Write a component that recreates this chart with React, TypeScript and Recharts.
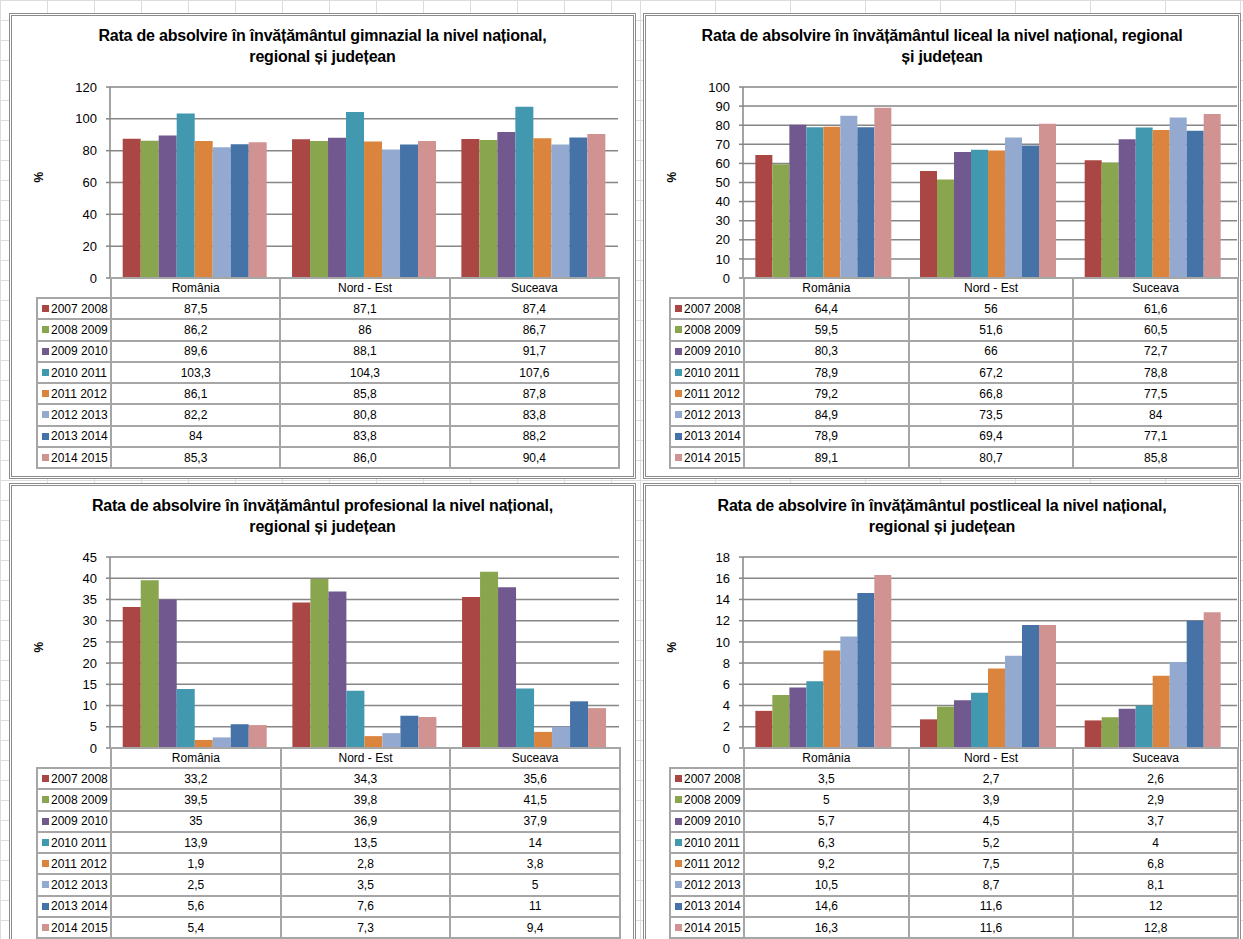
import { Bar, BarChart, CartesianGrid, XAxis, YAxis } from 'recharts';

const CATEGORIES = ['România', 'Nord - Est', 'Suceava'];
const YEARS = ['2007 2008', '2008 2009', '2009 2010', '2010 2011', '2011 2012', '2012 2013', '2013 2014', '2014 2015'];
const COLORS = ['#AA4643', '#89A54E', '#71588F', '#4198AF', '#DB843D', '#93A9CF', '#4572A7', '#D19392'];

// values as printed in the data tables (comma decimals)
const GIMNAZIAL_ROMANIA = ['87,5', '86,2', '89,6', '103,3', '86,1', '82,2', '84', '85,3'];
const GIMNAZIAL_NORD_EST = ['87,1', '86', '88,1', '104,3', '85,8', '80,8', '83,8', '86,0'];
const GIMNAZIAL_SUCEAVA = ['87,4', '86,7', '91,7', '107,6', '87,8', '83,8', '88,2', '90,4'];

const LICEAL_ROMANIA = ['64,4', '59,5', '80,3', '78,9', '79,2', '84,9', '78,9', '89,1'];
const LICEAL_NORD_EST = ['56', '51,6', '66', '67,2', '66,8', '73,5', '69,4', '80,7'];
const LICEAL_SUCEAVA = ['61,6', '60,5', '72,7', '78,8', '77,5', '84', '77,1', '85,8'];

const PROFESIONAL_ROMANIA = ['33,2', '39,5', '35', '13,9', '1,9', '2,5', '5,6', '5,4'];
const PROFESIONAL_NORD_EST = ['34,3', '39,8', '36,9', '13,5', '2,8', '3,5', '7,6', '7,3'];
const PROFESIONAL_SUCEAVA = ['35,6', '41,5', '37,9', '14', '3,8', '5', '11', '9,4'];

const POSTLICEAL_ROMANIA = ['3,5', '5', '5,7', '6,3', '9,2', '10,5', '14,6', '16,3'];
const POSTLICEAL_NORD_EST = ['2,7', '3,9', '4,5', '5,2', '7,5', '8,7', '11,6', '11,6'];
const POSTLICEAL_SUCEAVA = ['2,6', '2,9', '3,7', '4', '6,8', '8,1', '12', '12,8'];

const TICKS_GIMNAZIAL = [0, 20, 40, 60, 80, 100, 120];
const TICKS_LICEAL = [0, 10, 20, 30, 40, 50, 60, 70, 80, 90, 100];
const TICKS_PROFESIONAL = [0, 5, 10, 15, 20, 25, 30, 35, 40, 45];
const TICKS_POSTLICEAL = [0, 2, 4, 6, 8, 10, 12, 14, 16, 18];

const toNum = (s: string) => parseFloat(s.replace(',', '.'));

function buildRows(cols: string[][]) {
  return CATEGORIES.map((name, c) => {
    const row: Record<string, string | number> = { name };
    YEARS.forEach((_, i) => {
      row[`s${i}`] = toNum(cols[c][i]);
    });
    return row;
  });
}

const B = 3; // frame border
const AXIS_W = 90;
const LEGEND_W = 74;
const PLOT_TOP = 74;
const PLOT_H = 191;
const LINE = '2px solid #a6a6a6';
const FONT = '"Liberation Sans", Arial, sans-serif';

type PanelProps = {
  x: number;
  y: number;
  w: number;
  h: number;
  title: string[];
  ticks: number[];
  cols: string[][];
  plotLeft: number;
  plotW: number;
};

function Panel({ x, y, w, h, title, ticks, cols, plotLeft, plotW }: PanelProps) {
  const data = buildRows(cols);
  const cell: React.CSSProperties = { border: LINE, padding: 0, textAlign: 'center', color: '#000' };
  return (
    <div
      style={{
        position: 'absolute',
        left: x,
        top: y,
        width: w,
        height: h,
        border: `${B}px double #8c8c8c`,
        boxSizing: 'border-box',
        background: '#fff',
      }}
    >
      <div
        style={{
          position: 'absolute',
          left: 0,
          right: 0,
          top: 12 - B,
          textAlign: 'center',
          fontFamily: FONT,
          fontWeight: 'bold',
          fontSize: 16,
          letterSpacing: -0.2,
          lineHeight: '21px',
          color: '#000',
        }}
      >
        {title.map((t) => (
          <div key={t}>{t}</div>
        ))}
      </div>

      <div style={{ position: 'absolute', left: plotLeft - AXIS_W - B, top: PLOT_TOP - 10 - B }}>
        <BarChart
          width={AXIS_W + plotW}
          height={PLOT_H + 20}
          data={data}
          margin={{ top: 10, right: 0, bottom: 10, left: 0 }}
          barGap={0}
          barCategoryGap="7.5%"
        >
          <CartesianGrid vertical={false} stroke="#868686" strokeWidth={1.5} />
          <XAxis dataKey="name" hide />
          <YAxis
            width={AXIS_W}
            domain={[0, ticks[ticks.length - 1]]}
            ticks={ticks}
            interval={0}
            tickSize={4}
            tickMargin={9}
            stroke="#868686"
            strokeWidth={1.5}
            tick={{ fill: '#000', fontSize: 13, fontFamily: FONT }}
            label={{
              value: '%',
              angle: -90,
              position: 'insideLeft',
              offset: 19,
              fill: '#000',
              fontSize: 12,
              fontWeight: 'bold',
              fontFamily: FONT,
            }}
          />
          {YEARS.map((yr, i) => (
            <Bar key={yr} dataKey={`s${i}`} fill={COLORS[i]} isAnimationActive={false} />
          ))}
        </BarChart>
      </div>

      <table
        style={{
          position: 'absolute',
          left: plotLeft - LEGEND_W - B,
          top: PLOT_TOP + PLOT_H - B - 1,
          width: LEGEND_W + plotW,
          borderCollapse: 'collapse',
          tableLayout: 'fixed',
          fontFamily: FONT,
          fontSize: 12,
        }}
      >
        <colgroup>
          <col style={{ width: LEGEND_W }} />
          {CATEGORIES.map((c) => (
            <col key={c} style={{ width: plotW / 3 }} />
          ))}
        </colgroup>
        <tbody>
          <tr style={{ height: 20 }}>
            <td style={{ border: 'none', borderBottom: LINE, padding: 0 }} />
            {CATEGORIES.map((c) => (
              <td key={c} style={cell}>
                {c}
              </td>
            ))}
          </tr>
          {YEARS.map((yr, i) => (
            <tr key={yr} style={{ height: 21.3 }}>
              <td style={{ ...cell, textAlign: 'left', paddingLeft: 4, whiteSpace: 'nowrap' }}>
                <span
                  style={{
                    display: 'inline-block',
                    width: 7,
                    height: 7,
                    background: COLORS[i],
                    marginRight: 2,
                    verticalAlign: 'middle',
                    position: 'relative',
                    top: -1,
                  }}
                />
                {yr}
              </td>
              {cols.map((col, c) => (
                <td key={c} style={cell}>
                  {col[i]}
                </td>
              ))}
            </tr>
          ))}
        </tbody>
      </table>
    </div>
  );
}

const gridBg = (cw: number): React.CSSProperties => ({
  backgroundImage:
    'linear-gradient(to right, #dcdcdc 1px, transparent 1px), linear-gradient(to bottom, #dcdcdc 1px, transparent 1px)',
  backgroundSize: `${cw}px 20px`,
});

export default function App() {
  return (
    <div
      style={{
        position: 'absolute',
        left: 0,
        top: 0,
        width: 1243,
        height: 939,
        overflow: 'hidden',
        background: '#fff',
      }}
    >
      <div style={{ position: 'absolute', left: 0, top: 0, width: 640, height: 939, ...gridBg(47) }} />
      <div style={{ position: 'absolute', left: 640, top: 0, width: 603, height: 939, ...gridBg(75) }} />

      <Panel
        x={9}
        y={13}
        w={627}
        h={466}
        title={['Rata de absolvire în învățământul gimnazial la nivel național,', 'regional și județean']}
        ticks={TICKS_GIMNAZIAL}
        cols={[GIMNAZIAL_ROMANIA, GIMNAZIAL_NORD_EST, GIMNAZIAL_SUCEAVA]}
        plotLeft={101}
        plotW={508}
      />
      <Panel
        x={643}
        y={13}
        w={598}
        h={466}
        title={['Rata de absolvire în învățământul liceal la nivel național, regional', 'și județean']}
        ticks={TICKS_LICEAL}
        cols={[LICEAL_ROMANIA, LICEAL_NORD_EST, LICEAL_SUCEAVA]}
        plotLeft={100}
        plotW={494}
      />
      <Panel
        x={9}
        y={483}
        w={627}
        h={480}
        title={['Rata de absolvire în învățământul profesional la nivel național,', 'regional și județean']}
        ticks={TICKS_PROFESIONAL}
        cols={[PROFESIONAL_ROMANIA, PROFESIONAL_NORD_EST, PROFESIONAL_SUCEAVA]}
        plotLeft={101}
        plotW={509}
      />
      <Panel
        x={643}
        y={483}
        w={598}
        h={480}
        title={['Rata de absolvire în învățământul postliceal la nivel național,', 'regional și județean']}
        ticks={TICKS_POSTLICEAL}
        cols={[POSTLICEAL_ROMANIA, POSTLICEAL_NORD_EST, POSTLICEAL_SUCEAVA]}
        plotLeft={100}
        plotW={494}
      />
    </div>
  );
}
